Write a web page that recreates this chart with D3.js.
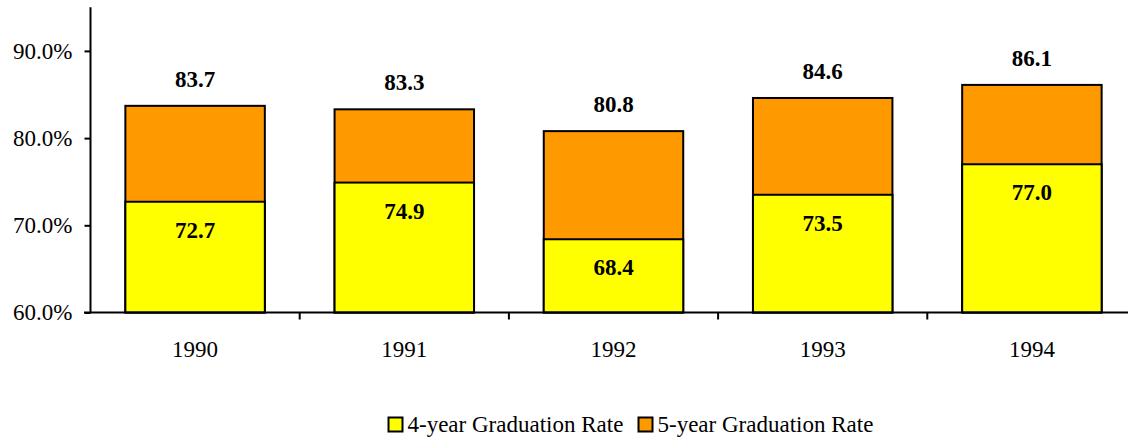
<!DOCTYPE html>
<html><head><meta charset="utf-8">
<script src="https://cdn.jsdelivr.net/npm/d3@7"></script>
<style>body{margin:0;background:#fff}svg{display:block}text{font-family:"Liberation Serif","Times New Roman",serif}</style>
</head><body>
<svg id="c" width="1128" height="438"></svg>
<script>
const years = ["1990","1991","1992","1993","1994"];
const fourYear = [72.7, 74.9, 68.4, 73.5, 77.0];
const fiveYear = [83.7, 83.3, 80.8, 84.6, 86.1];
const yTicks = [60, 70, 80, 90];
const seriesNames = ["4-year Graduation Rate", "5-year Graduation Rate"];
const colors = ["#FFFF00", "#FF9900"];

const FS = 23;
const svg = d3.select("#c");
const x = d3.scaleBand().domain(years).range([90.5, 1136.5]).paddingInner(1/3).paddingOuter(1/6);
const y = d3.scaleLinear().domain([60, 95]).range([312.5, 7.3]);

// y axis
const ya = svg.append("g").attr("transform", "translate(90.5,0)")
  .call(d3.axisLeft(y).tickValues(yTicks).tickSize(6).tickPadding(12).tickFormat(d => d3.format(".1f")(d) + "%"));
ya.attr("font-family", null);
ya.select(".domain").attr("stroke", "#000").attr("stroke-width", 2).attr("d", `M0,${y(95)}V${y(60)}`);
ya.selectAll(".tick line").attr("stroke", "#000").attr("stroke-width", 2);
ya.selectAll(".tick text").attr("font-size", FS).attr("fill", "#000");

// x axis
const step = x.step();
const xa = svg.append("g").attr("transform", `translate(0,${y(60)})`);
xa.selectAll("line.t").data(years.slice(1)).join("line").attr("class", "t")
  .attr("x1", d => x(d) - step * x.paddingInner() / 2).attr("x2", d => x(d) - step * x.paddingInner() / 2)
  .attr("y1", 0).attr("y2", 7).attr("stroke", "#000").attr("stroke-width", 2);
xa.selectAll("text").data(years).join("text")
  .attr("x", d => x(d) + x.bandwidth() / 2).attr("y", 44.5).attr("text-anchor", "middle")
  .attr("font-size", FS).text(d => d);

// bars
const g = svg.append("g");
years.forEach((yr, i) => {
  g.append("rect").attr("x", x(yr)).attr("width", x.bandwidth())
    .attr("y", y(fiveYear[i])).attr("height", y(60) - y(fiveYear[i]))
    .attr("fill", colors[1]).attr("stroke", "#000").attr("stroke-width", 2);
  g.append("rect").attr("x", x(yr)).attr("width", x.bandwidth())
    .attr("y", y(fourYear[i])).attr("height", y(60) - y(fourYear[i]))
    .attr("fill", colors[0]).attr("stroke", "#000").attr("stroke-width", 2);
  g.append("text").attr("x", x(yr) + x.bandwidth() / 2).attr("y", y(fiveYear[i]) - 19)
    .attr("text-anchor", "middle").attr("font-size", FS).attr("font-weight", "bold").text(fiveYear[i].toFixed(1));
  g.append("text").attr("x", x(yr) + x.bandwidth() / 2).attr("y", y(fourYear[i]) + 36)
    .attr("text-anchor", "middle").attr("font-size", FS).attr("font-weight", "bold").text(fourYear[i].toFixed(1));
});
// x axis line on top
svg.append("line").attr("x1", 84).attr("x2", 1128).attr("y1", y(60)).attr("y2", y(60)).attr("stroke", "#000").attr("stroke-width", 2);

// legend
const legX = [388.5, 638.5];
seriesNames.forEach((n, i) => {
  svg.append("rect").attr("x", legX[i]).attr("y", 417.5).attr("width", 14).attr("height", 14)
    .attr("fill", colors[i]).attr("stroke", "#000").attr("stroke-width", 2);
  svg.append("text").attr("x", legX[i] + 19).attr("y", 432).attr("font-size", FS).text(n);
});
</script>
</body></html>
